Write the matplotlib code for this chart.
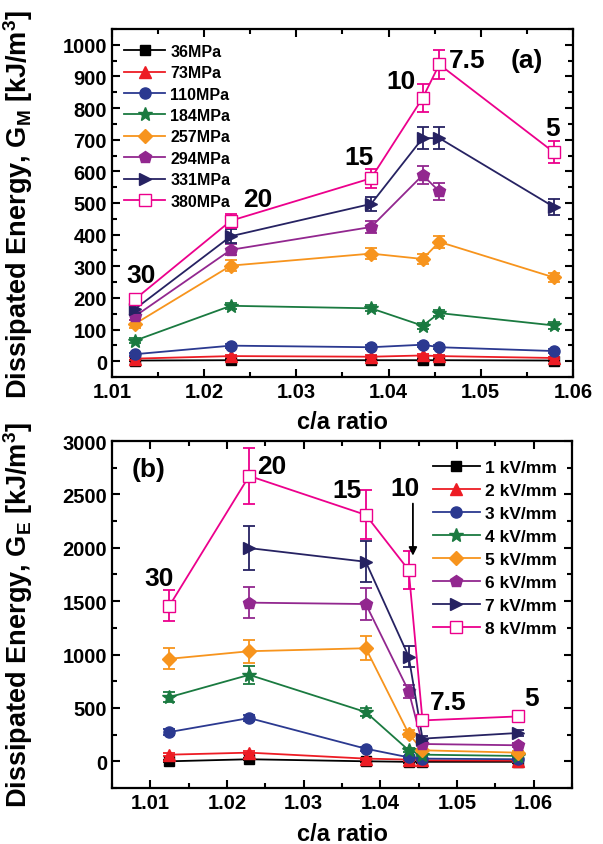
import numpy as np
import matplotlib
matplotlib.use("Agg")
import matplotlib.pyplot as plt
from matplotlib.ticker import MultipleLocator, FormatStrFormatter

plt.rcParams['font.family'] = ['Liberation Sans', 'DejaVu Sans']
plt.rcParams['font.weight'] = 'bold'
plt.rcParams['mathtext.default'] = 'bf'

# c/a ratio of the six compositions (labelled 30, 20, 15, 10, 7.5, 5)
ca = [1.0125, 1.0229, 1.0381, 1.0437, 1.0455, 1.0579]
comp_labels = ['30', '20', '15', '10', '7.5', '5']

# panel (a): mechanical loading
stress_labels = ['36MPa', '73MPa', '110MPa', '184MPa', '257MPa', '294MPa', '331MPa', '380MPa']
gm = [
    [2, 3, 3, 3, 3, 2],
    [8, 16, 14, 18, 16, 10],
    [22, 49, 44, 52, 44, 32],
    [65, 175, 167, 112, 152, 113],
    [118, 302, 340, 323, 377, 265],
    [142, 352, 424, 588, 537, np.nan],
    [165, 395, 497, 705, 705, 488],
    [196, 444, 578, 832, 938, 661],
]
gm_err = [
    [3, 3, 3, 3, 3, 3],
    [4, 4, 4, 4, 4, 4],
    [5, 6, 6, 6, 6, 5],
    [8, 10, 10, 10, 10, 10],
    [12, 17, 17, 17, 18, 15],
    [12, 18, 20, 28, 27, 0],
    [12, 22, 22, 35, 35, 25],
    [10, 22, 30, 44, 46, 34],
]

# panel (b): electrical loading
field_labels = ['1 kV/mm', '2 kV/mm', '3 kV/mm', '4 kV/mm', '5 kV/mm', '6 kV/mm', '7 kV/mm', '8 kV/mm']
ge = [
    [0, 19, 0, -5, -5, -5],
    [62, 81, 25, 16, 9, 6],
    [274, 405, 118, 37, 25, 19],
    [601, 810, 461, 103, 62, 50],
    [960, 1031, 1059, 259, 103, 81],
    [np.nan, 1486, 1473, 657, 162, 150],
    [np.nan, 1997, 1869, 981, 212, 265],
    [1458, 2673, 2308, 1791, 383, 420],
]
ge_err = [
    [10, 10, 10, 10, 10, 10],
    [15, 15, 10, 10, 10, 10],
    [25, 30, 20, 10, 10, 10],
    [50, 86, 40, 20, 10, 10],
    [97, 108, 110, 30, 15, 15],
    [0, 148, 148, 60, 20, 20],
    [0, 205, 190, 95, 25, 30],
    [148, 265, 230, 178, 25, 30],
]

colors = ['#000000', '#ED1C24', '#2B3990', '#1A7A40', '#F7941D', '#92278F', '#262262', '#EC008C']
markers = ['s', '^', 'o', '*', 'D', 'p', '>', 's']
msizes = [7, 8, 8, 10, 7, 9, 9, 8]

fig = plt.figure(figsize=(6.03, 8.45), dpi=100)
ax_a = fig.add_axes([0.1857, 0.5527, 0.7645, 0.4118])
ax_b = fig.add_axes([0.1857, 0.0663, 0.7629, 0.4106])


def draw_series(ax, y, yerr, labels):
    for i in range(len(y)):
        face = 'white' if i == 7 else colors[i]
        ax.errorbar(ca, y[i], yerr=yerr[i], fmt='none', ecolor=colors[i],
                    elinewidth=1.3, capsize=4, capthick=1.3)
        ax.plot(ca, y[i], color=colors[i], marker=markers[i], ms=msizes[i],
                mfc=face, mec=colors[i], lw=1.3, label=labels[i])


def style_axes(ax):
    for s in ax.spines.values():
        s.set_linewidth(1.6)
    ax.tick_params(which='both', direction='in', top=True, right=True, width=1.5,
                   labelsize=14.5)
    ax.tick_params(which='major', length=6)
    ax.tick_params(which='minor', length=3.5)
    ax.xaxis.set_major_locator(MultipleLocator(0.01))
    ax.xaxis.set_minor_locator(MultipleLocator(0.005))
    ax.xaxis.set_major_formatter(FormatStrFormatter('%.2f'))
    ax.set_xlabel('c/a ratio', fontsize=17, fontweight='bold')


# (a)
draw_series(ax_a, gm, gm_err, stress_labels)
style_axes(ax_a)
ax_a.set_xlim(1.01, 1.06)
ax_a.set_ylim(-50, 1050)
ax_a.yaxis.set_major_locator(MultipleLocator(100))
ax_a.yaxis.set_minor_locator(MultipleLocator(50))
ax_a.set_ylabel(r'Dissipated Energy, G$_\mathregular{M}$ [kJ/m$^\mathregular{3}$]',
                fontsize=19.5, fontweight='bold')
ax_a.yaxis.set_label_coords(-0.168, 0.5)
ax_a.xaxis.set_label_coords(0.5, -0.095)
ax_a.legend(loc='upper left', bbox_to_anchor=(0.005, 0.985), frameon=False, fontsize=11.5,
            handlelength=2.6, handletextpad=0.3, labelspacing=0.4, borderaxespad=0.2)

a_pos = [(1.0131, 271), (1.0258, 512), (1.0368, 646), (1.0413, 885), (1.0485, 953), (1.0578, 738)]
for t, (x, y) in zip(comp_labels, a_pos):
    ax_a.text(x, y, t, fontsize=19, ha='center', va='center')
ax_a.text(1.055, 953, '(a)', fontsize=19, ha='center', va='center')

# (b)
draw_series(ax_b, ge, ge_err, field_labels)
style_axes(ax_b)
ax_b.set_xlim(1.005, 1.065)
ax_b.set_ylim(-250, 3000)
ax_b.yaxis.set_major_locator(MultipleLocator(500))
ax_b.yaxis.set_minor_locator(MultipleLocator(250))
ax_b.set_ylabel(r'Dissipated Energy, G$_\mathregular{E}$ [kJ/m$^\mathregular{3}$]',
                fontsize=19.5, fontweight='bold')
ax_b.yaxis.set_label_coords(-0.168, 0.5)
ax_b.xaxis.set_label_coords(0.5, -0.097)
ax_b.legend(loc='upper right', bbox_to_anchor=(0.99, 0.975), frameon=False, fontsize=12.5,
            handlelength=2.7, handletextpad=0.3, labelspacing=0.45, borderaxespad=0.2)

b_pos = [(1.0111, 1716), (1.0259, 2766), (1.0356, 2542), (1.04325, 2564), (1.0489, 555), (1.05975, 592)]
for t, (x, y) in zip(comp_labels, b_pos):
    ax_b.text(x, y, t, fontsize=19, ha='center', va='center')
ax_b.text(1.00975, 2735, '(b)', fontsize=19, ha='center', va='center')
ax_b.annotate('', xy=(1.04425, 1900), xytext=(1.04425, 2440),
              arrowprops=dict(arrowstyle='-|>', color='k', lw=1.3, mutation_scale=12))

plt.savefig('out.png', dpi=100)
plt.close()
